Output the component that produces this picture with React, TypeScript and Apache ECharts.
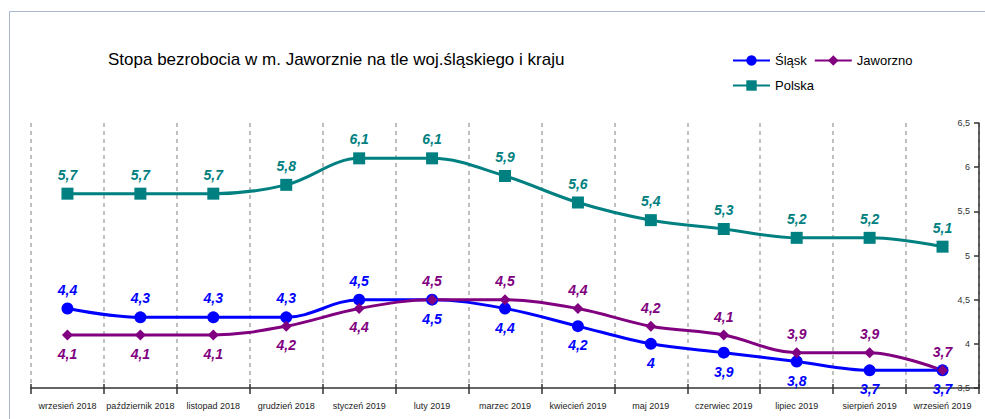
import React, { useEffect, useRef } from 'react';
import * as echarts from 'echarts';

const categories = [
  'wrzesień 2018', 'październik 2018', 'listopad 2018', 'grudzień 2018',
  'styczeń 2019', 'luty 2019', 'marzec 2019', 'kwiecień 2019', 'maj 2019',
  'czerwiec 2019', 'lipiec 2019', 'sierpień 2019', 'wrzesień 2019',
];
const slask = [4.4, 4.3, 4.3, 4.3, 4.5, 4.5, 4.4, 4.2, 4.0, 3.9, 3.8, 3.7, 3.7];
const jaworzno = [4.1, 4.1, 4.1, 4.2, 4.4, 4.5, 4.5, 4.4, 4.2, 4.1, 3.9, 3.9, 3.7];
const polska = [5.7, 5.7, 5.7, 5.8, 6.1, 6.1, 5.9, 5.6, 5.4, 5.3, 5.2, 5.2, 5.1];

const yMin = 3.5;
const yMax = 6.5;
const yStep = 0.5;

// label placement (styling only)
const slaskLabelSide = ['top', 'top', 'top', 'top', 'top', 'bottom', 'bottom', 'bottom', 'bottom', 'bottom', 'bottom', 'bottom', 'bottom'];
const jaworznoLabelSide = ['bottom', 'bottom', 'bottom', 'bottom', 'bottom', 'top', 'top', 'top', 'top', 'top', 'top', 'top', 'top'];

const FONT = '"Liberation Sans", Arial, sans-serif';
const comma = (v: number) => String(v).replace('.', ',');

function makeSeries(name: string, values: number[], color: string, symbol: string, size: number, sides: string[] | null) {
  return {
    name,
    type: 'line',
    smooth: 0.35,
    symbol,
    symbolSize: size,
    lineStyle: { color, width: 3 },
    itemStyle: { color },
    data: values.map((v, i) => ({
      value: v,
      label: { position: sides ? sides[i] : 'top' },
    })),
    label: {
      show: true,
      distance: 6,
      color,
      fontFamily: FONT,
      fontSize: 14,
      fontWeight: 'bold',
      fontStyle: 'italic',
      formatter: (p: any) => comma(p.value),
    },
  };
}

export default function App() {
  const ref = useRef<HTMLDivElement>(null);
  useEffect(() => {
    if (!ref.current) return;
    const chart = echarts.init(ref.current, null, { renderer: 'svg' });
    chart.setOption({
      animation: false,
      backgroundColor: '#ffffff',
      title: {
        text: 'Stopa bezrobocia w m. Jaworznie na tle woj.śląskiego i kraju',
        left: 108,
        top: 51,
        padding: 0,
        textStyle: { fontFamily: FONT, fontSize: 17, fontWeight: 'normal', color: '#000' },
      },
      graphic: [
        {
          type: 'rect',
          left: 7,
          top: 9,
          shape: { width: 1000, height: 500 },
          style: { fill: 'none', stroke: '#a8b8d0', lineWidth: 1 },
          silent: true,
          z: -1,
        },
      ],
      legend: [
        {
          data: ['Śląsk', 'Jaworzno'],
          left: 732,
          top: 54,
          padding: 0,
          itemWidth: 37,
          itemHeight: 13,
          itemGap: 7,
          textStyle: { fontFamily: FONT, fontSize: 13, color: '#000' },
        },
        {
          data: ['Polska'],
          left: 732,
          top: 79,
          padding: 0,
          itemWidth: 37,
          itemHeight: 13,
          textStyle: { fontFamily: FONT, fontSize: 13, color: '#000' },
        },
      ],
      grid: { left: 31, right: 6, top: 123, bottom: 31 },
      xAxis: [
        {
          type: 'category',
          data: categories,
          boundaryGap: true,
          axisLine: { lineStyle: { color: '#333', width: 1.5 } },
          axisTick: { show: true, interval: 0, length: 6, lineStyle: { color: '#333', width: 1.5 } },
          axisLabel: { interval: 0, margin: 13, fontFamily: FONT, fontSize: 9, color: '#222' },
          splitLine: { show: true, interval: 0, lineStyle: { type: [4, 4], color: '#aaaaaa', width: 1.5 } },
        },
        {
          type: 'category',
          data: categories,
          boundaryGap: true,
          position: 'bottom',
          axisLine: { show: false },
          axisTick: { show: true, inside: true, interval: 0, length: 4, lineStyle: { color: '#333', width: 1.5 } },
          axisLabel: { show: false },
          splitLine: { show: false },
        },
      ],
      yAxis: {
        type: 'value',
        position: 'right',
        min: yMin,
        max: yMax,
        interval: yStep,
        axisLine: { show: true, lineStyle: { color: '#333', width: 1.5 } },
        axisTick: { show: true, inside: true, length: 5, lineStyle: { color: '#333', width: 1.5 } },
        axisLabel: { inside: true, margin: 9, fontFamily: FONT, fontSize: 9, color: '#333', formatter: (v: number) => comma(v) },
        splitLine: { show: false },
      },
      series: [
        makeSeries('Śląsk', slask, '#0000ff', 'circle', 12, slaskLabelSide),
        makeSeries('Jaworzno', jaworzno, '#800080', 'diamond', 11, jaworznoLabelSide),
        makeSeries('Polska', polska, '#008080', 'rect', 12, null),
      ],
    });
    return () => chart.dispose();
  }, []);
  return <div ref={ref} style={{ position: 'absolute', left: 0, top: 0, width: 985, height: 419 }} />;
}
